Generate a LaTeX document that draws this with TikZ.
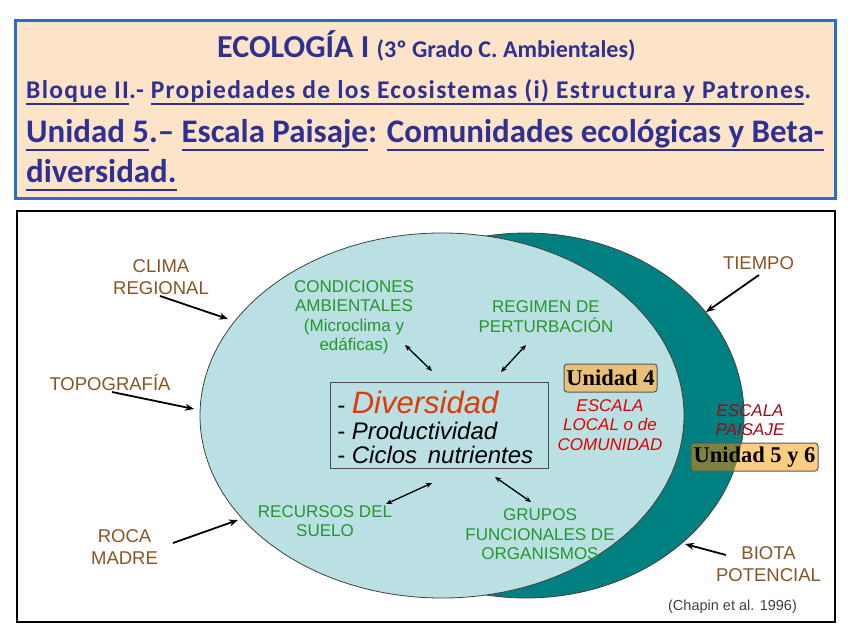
\documentclass[tikz,border=0pt]{standalone}
\usepackage{fontspec}
\setmainfont{Liberation Sans}
\newfontfamily\hdrfont{Carlito}
\newfontfamily\hdrfontsp{Carlito}[LetterSpace=5]
\newfontfamily\unifont{Liberation Serif}
\usetikzlibrary{arrows.meta,shapes.geometric}
\definecolor{hdrblue}{RGB}{46,49,146}
\definecolor{hdrborder}{RGB}{40,110,205}
\definecolor{hdrfill}{RGB}{253,227,200}
\definecolor{brownc}{RGB}{135,85,35}
\definecolor{greenc}{RGB}{35,150,45}
\definecolor{lightc}{RGB}{186,224,228}
\definecolor{tealc}{RGB}{0,128,128}
\definecolor{diverc}{RGB}{220,60,10}
\definecolor{redc}{RGB}{225,0,0}
\definecolor{darkredc}{RGB}{160,10,20}
\definecolor{unifill}{RGB}{232,192,122}
\definecolor{unifillb}{RGB}{253,205,128}
\definecolor{olivec}{RGB}{125,130,62}
\newcommand\ulword[1]{\setbox0\hbox{#1}\rlap{\rule[-0.25em]{\wd0}{0.075em}}\box0}
\begin{document}
\begin{tikzpicture}[x=1pt, y=-1pt,
   hdr/.style={text=hdrblue, anchor=base west, inner sep=0},
   brownlbl/.style={text=brownc, font=\fontsize{18.5}{22}\selectfont, align=center, inner sep=0},
   greenlbl/.style={text=greenc, font=\fontsize{17}{19.5}\selectfont, align=center, inner sep=0},
   redlbl/.style={font=\fontsize{17}{19.5}\selectfont\itshape, align=center, inner sep=0},
   unibox/.style={draw=black!65, line width=1pt, rounded corners=3pt, font=\unifont\bfseries\fontsize{22.5}{24}\selectfont, inner sep=0},
   outarrow/.style={-{Stealth[length=9pt,width=7pt]}, line width=1.8pt},
   dblarrow/.style={{Stealth[length=6pt,width=5pt]}-{Stealth[length=6pt,width=5pt]}, line width=1.3pt}]
   \useasboundingbox (0,0) rectangle (848,636);
   \draw[hdrborder, line width=3pt, fill=hdrfill] (15,21) rectangle (835,199);
   \node[hdr, font=\hdrfont\bfseries\fontsize{32}{34}\selectfont] (ttl) at (217,58) {ECOLOGÍA I \fontsize{24}{26}\selectfont(3º Grado C. Ambientales)};
   \node[hdr, font=\hdrfontsp\bfseries\fontsize{25.5}{27}\selectfont] (blq) at (26,99) {\ulword{Bloque II}.- \ulword{Propiedades de los Ecosistemas (i) Estructura y Patrones}.};
   \node[hdr, font=\hdrfont\bfseries\fontsize{32.9}{34}\selectfont] (uni) at (26,143) {\ulword{Unidad 5}.– \ulword{Escala Paisaje}: \ulword{Comunidades ecológicas y Beta-}};
   \node[hdr, font=\hdrfont\bfseries\fontsize{32.9}{34}\selectfont] (unib) at (26,183) {\ulword{diversidad.}};
   \draw[line width=2.5pt] (17,211) rectangle (835,622);
   \node[ellipse, draw=black!75, line width=0.8pt, fill=tealc, minimum width=436pt, minimum height=365pt, inner sep=0] (paisaje) at (526,415.5) {};
   \node[ellipse, draw=black!75, line width=0.8pt, fill=lightc, minimum width=484pt, minimum height=365pt, inner sep=0] (local) at (442,415.5) {};
   \node[draw=black!70, line width=1pt, minimum width=218pt, minimum height=86pt, inner sep=0] (box) at (439,425) {};
   \node[anchor=base west, inner sep=0, font=\fontsize{31}{33}\selectfont\itshape] (divers) at (337,413) {\fontsize{24}{26}\selectfont- \fontsize{31}{33}\selectfont\textcolor{diverc}{Diversidad}};
   \node[anchor=base west, inner sep=0, font=\fontsize{24}{26}\selectfont\itshape] (produc) at (337,439) {- Productividad};
   \node[anchor=base west, inner sep=0, font=\fontsize{24}{26}\selectfont\itshape] (ciclos) at (337,463) {- Ciclos\hspace{4pt} nutrientes};
   \node[greenlbl] (cond) at (354,317.5) {CONDICIONES\\AMBIENTALES\\(Microclima y\\edáficas)};
   \node[greenlbl] (regim) at (546,316.5) {REGIMEN DE\\PERTURBACIÓN};
   \node[greenlbl] (recur) at (325,521) {RECURSOS DEL\\SUELO};
   \node[greenlbl] (grupos) at (540,534.5) {GRUPOS\\FUNCIONALES DE\\ORGANISMOS};
   \coordinate (cond-a) at (405,345);  \coordinate (cond-b) at (432,371);
   \coordinate (regim-a) at (526,345); \coordinate (regim-b) at (501,372);
   \coordinate (recur-a) at (432,483); \coordinate (recur-b) at (386,504);
   \coordinate (grupos-a) at (495,477); \coordinate (grupos-b) at (531,502);
   \draw[dblarrow] (cond-a) -- (cond-b);
   \draw[dblarrow] (regim-a) -- (regim-b);
   \draw[dblarrow] (recur-a) -- (recur-b);
   \draw[dblarrow] (grupos-a) -- (grupos-b);
   \node[unibox, fill=unifill, minimum width=93pt, minimum height=28pt] (u4) at (610.5,378) {Unidad 4};
   \node[redlbl, text=redc] (esclocal) at (610,425) {ESCALA\\LOCAL o de\\COMUNIDAD};
   \node[redlbl, text=darkredc] (escpais) at (750,420) {ESCALA\\PAISAJE};
   \fill[unifillb, rounded corners=3pt] (691,443) rectangle (818,471);
   \begin{scope}
      \clip (526,415.5) ellipse [x radius=218, y radius=182.5];
      \fill[olivec, rounded corners=3pt] (691,443) rectangle (818,471);
   \end{scope}
   \node[unibox, minimum width=127pt, minimum height=28pt] (u56) at (754.5,457) {Unidad 5 y 6};
   \node[brownlbl] (clima) at (161,277) {CLIMA\\REGIONAL};
   \node[brownlbl] (topo) at (110,383) {TOPOGRAFÍA};
   \node[brownlbl] (roca) at (124.5,547.5) {ROCA\\MADRE};
   \node[brownlbl] (tiempo) at (758.5,263) {TIEMPO};
   \node[brownlbl] (biota) at (768.5,564) {BIOTA\\POTENCIAL};
   \node[text=black!75, font=\fontsize{14.5}{16}\selectfont, inner sep=0] (cita) at (732.5,607) {(Chapin et al. 1996)};
   \coordinate (clima-a) at (160,296);  \coordinate (clima-b) at (228,319);
   \coordinate (topo-a) at (112,392);   \coordinate (topo-b) at (194,409);
   \coordinate (roca-a) at (173,543);   \coordinate (roca-b) at (238,520);
   \coordinate (tiempo-a) at (759,275); \coordinate (tiempo-b) at (706,312);
   \coordinate (biota-a) at (726,555);  \coordinate (biota-b) at (685,544);
   \draw[outarrow] (clima-a) -- (clima-b);
   \draw[outarrow] (topo-a) -- (topo-b);
   \draw[outarrow] (roca-a) -- (roca-b);
   \draw[outarrow] (tiempo-a) -- (tiempo-b);
   \draw[outarrow] (biota-a) -- (biota-b);
\end{tikzpicture}
\end{document}
